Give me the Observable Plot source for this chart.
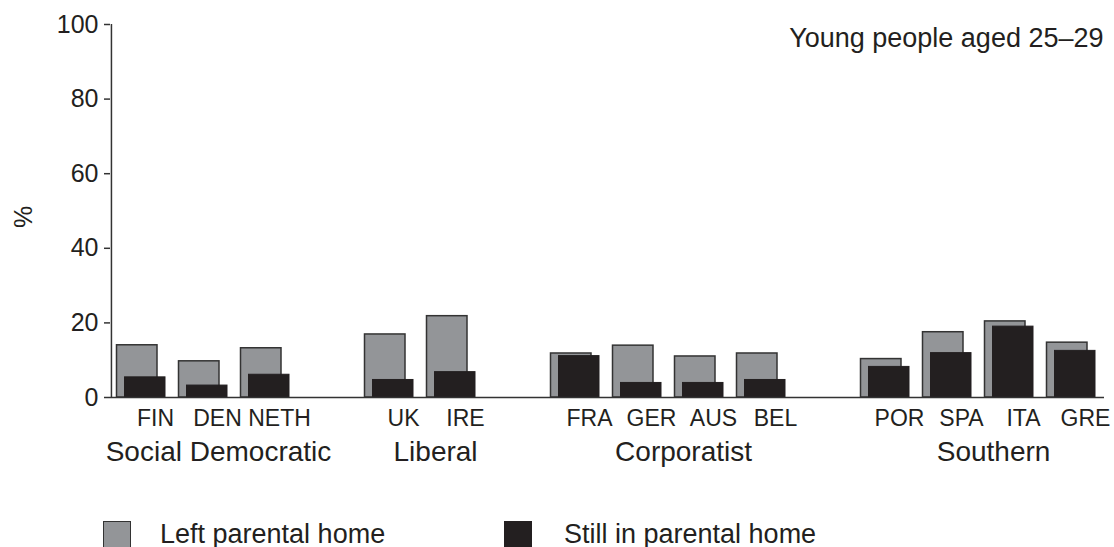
<!DOCTYPE html>
<html>
<head>
<meta charset="utf-8">
<script src="https://cdn.jsdelivr.net/npm/d3@7"></script>
<script src="https://cdn.jsdelivr.net/npm/@observablehq/plot@0.6"></script>
<style>
  html, body { margin: 0; padding: 0; background: #fff; overflow: hidden; }
  body { width: 1114px; height: 547px; font-family: "Liberation Sans", Arial, Helvetica, sans-serif; color: #231f20; }
  #legend { position: relative; height: 42px; width: 1114px; }
  .sw { position: absolute; top: 16px; width: 28px; height: 28px; box-sizing: border-box; }
  .lab { position: absolute; top: 16px; font-size: 27px; line-height: 27px; white-space: nowrap; }
</style>
</head>
<body>
<div id="chart"></div>
<div id="legend"></div>
<script>
// ---- data ----
const countries = ["FIN", "DEN", "NETH", "UK", "IRE", "FRA", "GER", "AUS", "BEL", "POR", "SPA", "ITA", "GRE"];
const leftHome  = [14.0, 9.7, 13.2, 16.9, 21.8, 11.8, 13.9, 11.0, 11.8, 10.3, 17.5, 20.4, 14.7];
const stillHome = [5.4, 3.2, 6.1, 4.7, 6.8, 11.1, 3.9, 3.9, 4.7, 8.2, 11.9, 19.0, 12.5];
const groupNames = ["Social Democratic", "Liberal", "Corporatist", "Southern"];
const groupMembers = [["FIN", "DEN", "NETH"], ["UK", "IRE"], ["FRA", "GER", "AUS", "BEL"], ["POR", "SPA", "ITA", "GRE"]];
const seriesNames = ["Left parental home", "Still in parental home"];
const yTicks = [0, 20, 40, 60, 80, 100];
const title = "Young people aged 25–29";
const yLabel = "%";

// ---- layout ----
const W = 1114, H = 505;
const mL = 110, mR = 10, mT = 24, mB = H - 397;
const ink = "#231f20", grey = "#939598", edge = "#333333";

// x domain with spacer slots between groups
const domain = [];
groupMembers.forEach((g, i) => {
  if (i > 0) domain.push("gap" + i);
  domain.push(...g);
});
const step = (W - mL - mR) / domain.length;

const rows = countries.map((c, i) => ({country: c, left: leftHome[i], still: stillHome[i]}));
const groups = groupNames.map((name, i) => {
  const m = groupMembers[i];
  const mid = m[Math.floor((m.length - 1) / 2)];
  return {name, anchor: mid, even: m.length % 2 === 0};
});
const oddGroups = groups.filter(g => !g.even);
const evenGroups = groups.filter(g => g.even);

const font = "'Liberation Sans', Arial, Helvetica, sans-serif";

const plot = Plot.plot({
  width: W,
  height: H,
  marginLeft: mL,
  marginRight: mR,
  marginTop: mT,
  marginBottom: mB,
  style: {fontFamily: font, color: ink, background: "white", overflow: "visible"},
  x: {type: "band", domain, padding: 0, axis: null},
  y: {domain: [0, 100], axis: null},
  marks: [
    Plot.axisY({ticks: yTicks, tickSize: 6, tickPadding: 6, fontSize: 25, stroke: edge, strokeWidth: 1.5, label: null, color: ink}),
    Plot.barY(rows, {x: "country", y: "left", fill: grey, stroke: edge, strokeWidth: 1.5, insetLeft: 5.5, insetRight: 16}),
    Plot.barY(rows, {x: "country", y: "still", fill: ink, stroke: ink, strokeWidth: 1, insetLeft: 13.5, insetRight: 8}),
    Plot.ruleY([0], {stroke: edge, strokeWidth: 1.5}),
    Plot.ruleX([domain[0]], {y1: 0, y2: 100, dx: -step / 2, stroke: edge, strokeWidth: 1.5}),
    Plot.text(rows, {x: "country", text: "country", frameAnchor: "bottom", lineAnchor: "bottom", dy: 28, dx: 13, fontSize: 23, fill: ink}),
    Plot.text(oddGroups, {x: "anchor", text: "name", frameAnchor: "bottom", lineAnchor: "bottom", dy: 63, dx: 14, fontSize: 28, fill: ink}),
    Plot.text(evenGroups, {x: "anchor", text: "name", frameAnchor: "bottom", lineAnchor: "bottom", dy: 63, dx: 14 + step / 2, fontSize: 28, fill: ink}),
    Plot.text([title], {frameAnchor: "top-right", textAnchor: "end", lineAnchor: "bottom", dy: 22, dx: -1, fontSize: 27, fill: ink}),
    Plot.text([yLabel], {frameAnchor: "left", rotate: -90, dx: -87, dy: 17, fontSize: 25, fill: ink})
  ]
});
document.getElementById("chart").appendChild(plot);

// ---- legend ----
const legend = document.getElementById("legend");
const legendItems = [
  {name: seriesNames[0], fill: grey, border: edge, sx: 103, tx: 160},
  {name: seriesNames[1], fill: ink, border: ink, sx: 504, tx: 564}
];
legendItems.forEach(it => {
  const sw = document.createElement("div");
  sw.className = "sw";
  sw.style.left = it.sx + "px";
  sw.style.background = it.fill;
  sw.style.border = "1.5px solid " + it.border;
  legend.appendChild(sw);
  const t = document.createElement("div");
  t.className = "lab";
  t.style.left = it.tx + "px";
  t.textContent = it.name;
  legend.appendChild(t);
});
</script>
</body>
</html>
